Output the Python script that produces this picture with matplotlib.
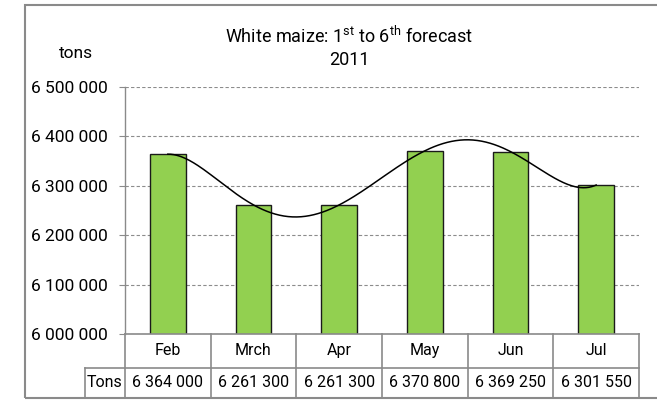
import numpy as np
import matplotlib
matplotlib.use("Agg")
import matplotlib.pyplot as plt
from matplotlib.patches import Rectangle
import matplotlib.transforms as mtransforms

months = ["Feb", "Mrch", "Apr", "May", "Jun", "Jul"]
tons = [6364000, 6261300, 6261300, 6370800, 6369250, 6301550]
table_labels = ["6 364 000", "6 261 300", "6 261 300", "6 370 800", "6 369 250", "6 301 550"]
yticks = [6000000, 6100000, 6200000, 6300000, 6400000, 6500000]
ytick_labels = ["6 000 000", "6 100 000", "6 200 000", "6 300 000", "6 400 000", "6 500 000"]

FONT = ["Roboto", "DejaVu Sans"]
plt.rcParams["font.family"] = FONT
plt.rcParams["mathtext.fontset"] = "custom"
plt.rcParams["mathtext.rm"] = "Roboto"

W, H = 657, 400
fig = plt.figure(figsize=(W / 100, H / 100), dpi=100)

# outer chart border
fig.patches.append(Rectangle((25 / W, 1 - 398 / H), (W + 10 - 25) / W, (398 - 5) / H,
                             transform=fig.transFigure, fill=False,
                             edgecolor="#8a8a8a", lw=1.5, clip_on=False))

left, right, top, bottom = 125, 639, 87, 334
ax = fig.add_axes([left / W, 1 - bottom / H, (right - left) / W, (bottom - top) / H])

x = np.arange(len(months))
ax.bar(x, tons, width=0.42, color="#92D050", edgecolor="#1a1a1a", linewidth=1.0, zorder=3)

# polynomial trendline (order 5) through the six values
vals = np.array(tons, dtype=float)
coef = np.polyfit(x, vals - 6000000, 5)
xs = np.linspace(0, len(months) - 1, 300)
ax.plot(xs, np.polyval(coef, xs) + 6000000, color="black", lw=1.1, zorder=4)

ax.set_xlim(-0.5, len(months) - 0.5)
ax.set_ylim(6000000, 6500000)
ax.set_yticks(yticks)
ax.set_yticklabels(ytick_labels, fontsize=12.5)
ax.set_xticks([])
ax.yaxis.grid(True, linestyle=(0, (3, 2)), color="#8c8c8c", lw=0.8, zorder=0)
ax.set_axisbelow(True)
ax.tick_params(axis="y", direction="out", length=4.5, width=0.8, color="#8a8a8a", pad=8)
for s in ["top", "right", "bottom"]:
    ax.spines[s].set_visible(False)
ax.spines["left"].set_color("#8a8a8a")
ax.spines["left"].set_linewidth(1.0)

# data table below axes
trans = mtransforms.blended_transform_factory(ax.transData, ax.transAxes)
ph = bottom - top
r1 = -(367.5 - bottom) / ph
r2 = -(398 - bottom) / ph
tons_left = -0.5 - (left - 85) / ((right - left) / len(months))
lc = "#8a8a8a"
lw = 1.2
def ln(xs_, ys_):
    ax.plot(xs_, ys_, transform=trans, color=lc, lw=lw, clip_on=False, zorder=5)
ln([-0.5, len(months) - 0.5], [0, 0])
ln([tons_left, len(months) - 0.5], [r1, r1])
ln([tons_left, len(months) - 0.5], [r2, r2])
for i in range(len(months) + 1):
    ln([i - 0.5, i - 0.5], [0, r2])
ln([tons_left, tons_left], [r1, r2])
for i, (m, v) in enumerate(zip(months, table_labels)):
    ax.text(i, r1 / 2, m, transform=trans, ha="center", va="center", fontsize=11.5)
    ax.text(i, (r1 + r2) / 2, v, transform=trans, ha="center", va="center", fontsize=11.5)
ax.text((tons_left - 0.5) / 2, (r1 + r2) / 2, "Tons", transform=trans, ha="center", va="center", fontsize=11.5)

fig.text(76 / W, 1 - 53 / H, "tons", ha="center", va="center", fontsize=12.5)
fig.text(349 / W, 1 - 36 / H, r"White maize: 1$^{\rm st}$ to 6$^{\rm th}$ forecast",
         ha="center", va="center", fontsize=13)
fig.text(349 / W, 1 - 60 / H, "2011", ha="center", va="center", fontsize=13)

fig.savefig("out.png", dpi=100)
